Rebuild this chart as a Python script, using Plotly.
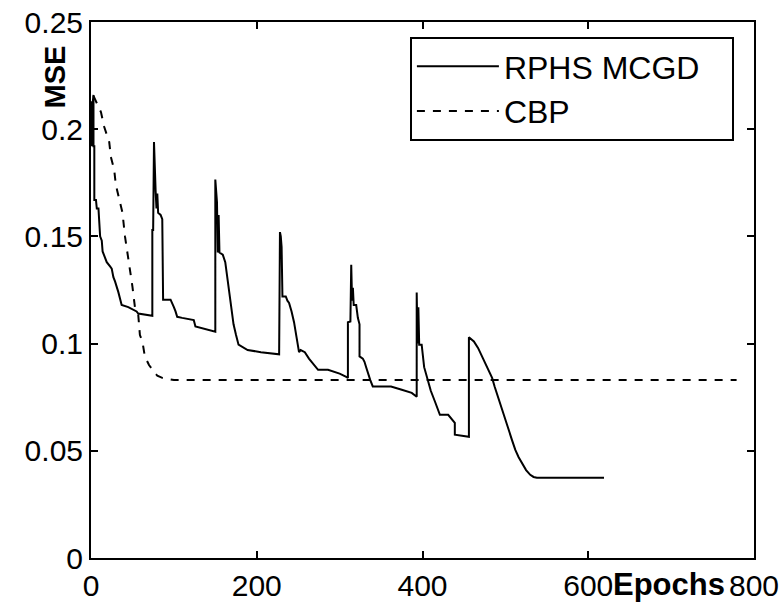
import plotly.graph_objects as go

# RPHS MCGD (solid) — epochs and MSE
mcgd_epochs = [0, 1, 2, 3, 3, 4, 4, 6, 7, 9, 11, 13, 14, 17, 19, 23, 25, 27, 29, 33, 35, 37, 45, 51, 55, 57, 74,
               74, 75, 76, 77, 78, 79, 80, 81, 84, 86, 87, 96, 98, 100, 102, 104, 110, 124, 126, 135, 150,
               150, 152, 153, 154, 155, 159, 162, 164, 166, 168, 172, 175, 178, 189, 205, 227,
               228, 229, 230, 231, 235, 237, 239, 242, 245, 248, 251, 253, 258, 263, 269, 274, 286, 300, 308, 310,
               310, 313, 314, 315, 316, 317, 320, 322, 324, 324, 328, 330, 332, 334, 337, 340, 362, 375, 387, 393,
               393, 394, 395, 396, 399, 402, 406, 410, 415, 418, 421, 431, 435, 439, 439, 448, 456,
               456, 462, 467, 471, 476, 480, 484, 487, 491, 496, 500, 504, 508, 512, 516, 520, 525, 530, 534, 538, 619]
mcgd_mse = [0.213, 0.192, 0.212, 0.216, 0.192, 0.192, 0.167, 0.167, 0.163, 0.163, 0.150, 0.148, 0.143, 0.140, 0.138,
            0.136, 0.135, 0.131, 0.129, 0.124, 0.121, 0.118, 0.117, 0.116, 0.115, 0.114, 0.113,
            0.153, 0.153, 0.194, 0.175, 0.171, 0.163, 0.170, 0.161, 0.160, 0.158, 0.1205, 0.1205, 0.119, 0.117,
            0.115, 0.1125, 0.112, 0.111, 0.108, 0.107, 0.1055,
            0.1765, 0.166, 0.1425, 0.160, 0.1425, 0.1415, 0.138, 0.132, 0.1266, 0.120, 0.109, 0.104, 0.0995,
            0.097, 0.096, 0.095,
            0.152, 0.150, 0.145, 0.122, 0.122, 0.120, 0.119, 0.115, 0.110, 0.103, 0.096, 0.097, 0.096, 0.093,
            0.090, 0.0878, 0.0878, 0.086, 0.0845, 0.084,
            0.110, 0.1103, 0.1368, 0.120, 0.126, 0.118, 0.118, 0.112, 0.109, 0.094, 0.093, 0.0915, 0.089, 0.0864,
            0.083, 0.080, 0.080, 0.0785, 0.077, 0.0752,
            0.1238, 0.100, 0.117, 0.0995, 0.0995, 0.089, 0.083, 0.078, 0.073, 0.070, 0.0668, 0.0668, 0.065, 0.063,
            0.0575, 0.057, 0.0565,
            0.103, 0.101, 0.098, 0.0948, 0.091, 0.0878, 0.084, 0.080, 0.075, 0.069, 0.064, 0.0598, 0.055, 0.0504,
            0.047, 0.0444, 0.041, 0.0388, 0.0378, 0.0374, 0.0374]

# CBP (dashed)
cbp_epochs = [3, 8, 12, 16, 20, 22, 24, 28, 30, 34, 38, 41, 44, 50, 53, 57, 59, 62, 65, 70, 74, 80, 86, 100, 779]
cbp_mse = [0.2155, 0.211, 0.208, 0.201, 0.196, 0.194, 0.187, 0.181, 0.174, 0.168, 0.161, 0.150, 0.1425, 0.1266,
           0.117, 0.1135, 0.104, 0.101, 0.094, 0.090, 0.088, 0.085, 0.084, 0.083, 0.083]

x_ticks = [0, 200, 400, 600, 800]
x_ticklabels = ["0", "200", "400", "600", "800"]
y_ticks = [0, 0.05, 0.1, 0.15, 0.2, 0.25]
y_ticklabels = ["0", "0.05", "0.1", "0.15", "0.2", "0.25"]

FONT = "Liberation Sans"

fig = go.Figure()
fig.add_trace(go.Scatter(x=mcgd_epochs, y=mcgd_mse, mode="lines", name="RPHS MCGD\u00a0\u00a0\u00a0",
                         line=dict(color="black", width=2)))
fig.add_trace(go.Scatter(x=cbp_epochs, y=cbp_mse, mode="lines", name="CBP",
                         line=dict(color="black", width=2, dash="8px,8px")))

axis_common = dict(showline=True, linecolor="black", linewidth=2, mirror="allticks",
                   ticks="inside", ticklen=7, tickwidth=2, tickcolor="black",
                   showgrid=False, zeroline=False, automargin=False,
                   ticklabeloverflow="allow",
                   tickfont=dict(family=FONT, size=30, color="black"))
fig.update_xaxes(range=[0, 800], tickvals=x_ticks, ticktext=x_ticklabels, **axis_common)
fig.update_yaxes(range=[0, 0.25], tickvals=y_ticks, ticktext=y_ticklabels, **axis_common)

fig.add_annotation(text="<b>Epochs</b>", xref="paper", yref="paper", x=0.872, y=-0.05,
                   xanchor="center", yanchor="middle", showarrow=False,
                   font=dict(family=FONT, size=31, color="black"))
fig.add_annotation(text="<b>MSE</b>", xref="paper", yref="paper", x=-0.054, y=0.897,
                   xanchor="center", yanchor="middle", showarrow=False, textangle=-90,
                   font=dict(family=FONT, size=29, color="black"))

fig.update_layout(
    width=783, height=605,
    margin=dict(l=91, r=29, t=22, b=47, autoexpand=False),
    paper_bgcolor="white", plot_bgcolor="white",
    font=dict(family=FONT, color="black"),
    legend=dict(x=0.481, y=0.972, xanchor="left", yanchor="top",
                bgcolor="white", bordercolor="black", borderwidth=2,
                font=dict(family=FONT, size=32, color="black"),
                itemwidth=82, tracegroupgap=0),
    showlegend=True,
)

fig.write_html("out.html",
               config={"displayModeBar": False},
               post_script="document.body.style.margin='0';document.body.style.overflow='hidden';")
